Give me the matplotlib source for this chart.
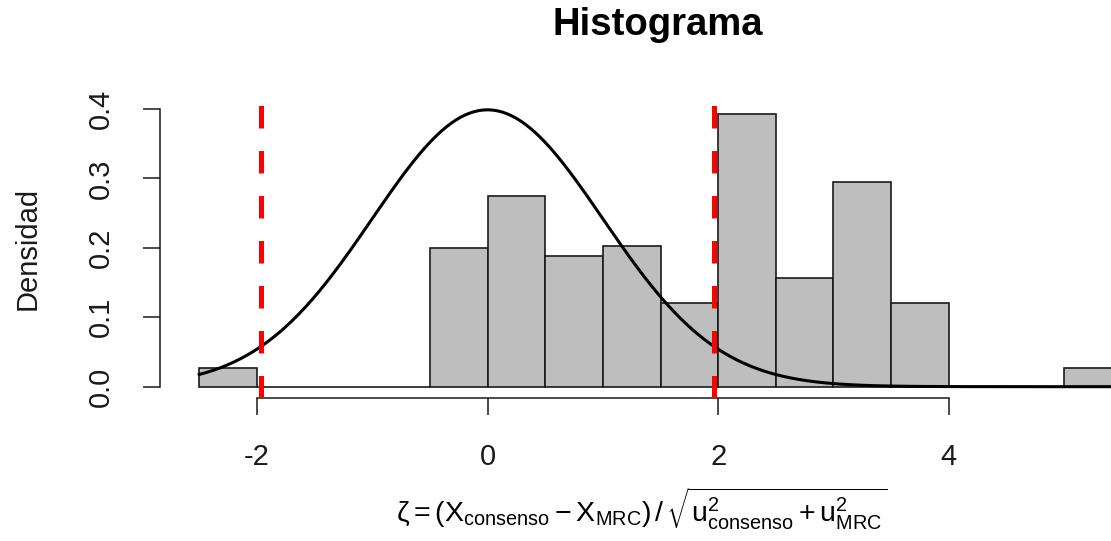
import numpy as np
import matplotlib
matplotlib.use("Agg")
import matplotlib.pyplot as plt

plt.rcParams["font.family"] = ["Liberation Sans", "DejaVu Sans"]
plt.rcParams["mathtext.fontset"] = "custom"
plt.rcParams["mathtext.rm"] = "Liberation Sans"
plt.rcParams["mathtext.it"] = "Liberation Sans"
plt.rcParams["mathtext.default"] = "regular"

# histogram of zeta scores (density scale, bin width 0.5)
breaks = np.arange(-2.5, 5.51, 0.5)
density = [0.027, 0.0, 0.0, 0.0, 0.200, 0.275, 0.189, 0.2025,
           0.121, 0.393, 0.157, 0.295, 0.120, 0.0, 0.0, 0.027]
limits = [-1.96, 1.96]
xticks = [-2, 0, 2, 4]
yticks = [0.0, 0.1, 0.2, 0.3, 0.4]

W, H = 1111, 541
fig = plt.figure(figsize=(W / 100, H / 100), dpi=100)
ax = fig.add_axes([160 / W, (H - 397.5) / H, 1001 / W, 293 / H])

ax.bar(breaks[:-1], density, width=np.diff(breaks), align="edge",
       color="#bebebe", edgecolor="#1a1a1a", linewidth=1.2, zorder=1)

# standard normal reference curve
xs = np.linspace(breaks[0], breaks[-1], 400)
ax.plot(xs, np.exp(-xs ** 2 / 2) / np.sqrt(2 * np.pi), color="black",
        linewidth=2.2, zorder=2)

for v in limits:
    ax.axvline(v, color="red", linewidth=3.6, linestyle=(0, (4.5, 4.5)),
               zorder=3)

ax.set_xlim(-2.84, 5.84)
ax.set_ylim(-0.0156, 0.4066)
ax.set_xticks(xticks)
ax.set_xticklabels([str(t) for t in xticks])
ax.set_yticks(yticks)
ax.set_yticklabels(["%.1f" % t for t in yticks])

for s in ["top", "right"]:
    ax.spines[s].set_visible(False)
ax.spines["left"].set_bounds(0, 0.4)
ax.spines["bottom"].set_bounds(-2, 4)
for s in ["left", "bottom"]:
    ax.spines[s].set_linewidth(1.1)
    ax.spines[s].set_color("#1a1a1a")

ax.tick_params(direction="out", length=12.5, width=1.1, color="#1a1a1a",
               labelsize=21, labelcolor="#1a1a1a")
ax.tick_params(axis="x", pad=20)
ax.tick_params(axis="y", pad=20, labelrotation=90)
for lab in ax.get_yticklabels():
    lab.set_verticalalignment("center")

fig.text(658 / W, 1 - 25 / H, "Histograma", ha="center", va="center",
         fontsize=27.5, fontweight="bold")
fig.text(28 / W, 1 - 248 / H, "Densidad", ha="center", va="center",
         rotation=90, fontsize=21, color="#1a1a1a")
fig.text(642 / W, 1 - 509 / H,
         r"$\zeta = (X_{consenso} - X_{MRC})\,/\,"
         r"\sqrt{u^2_{consenso} + u^2_{MRC}}$",
         ha="center", va="center", fontsize=20.5)

fig.savefig("out.png", dpi=100)
